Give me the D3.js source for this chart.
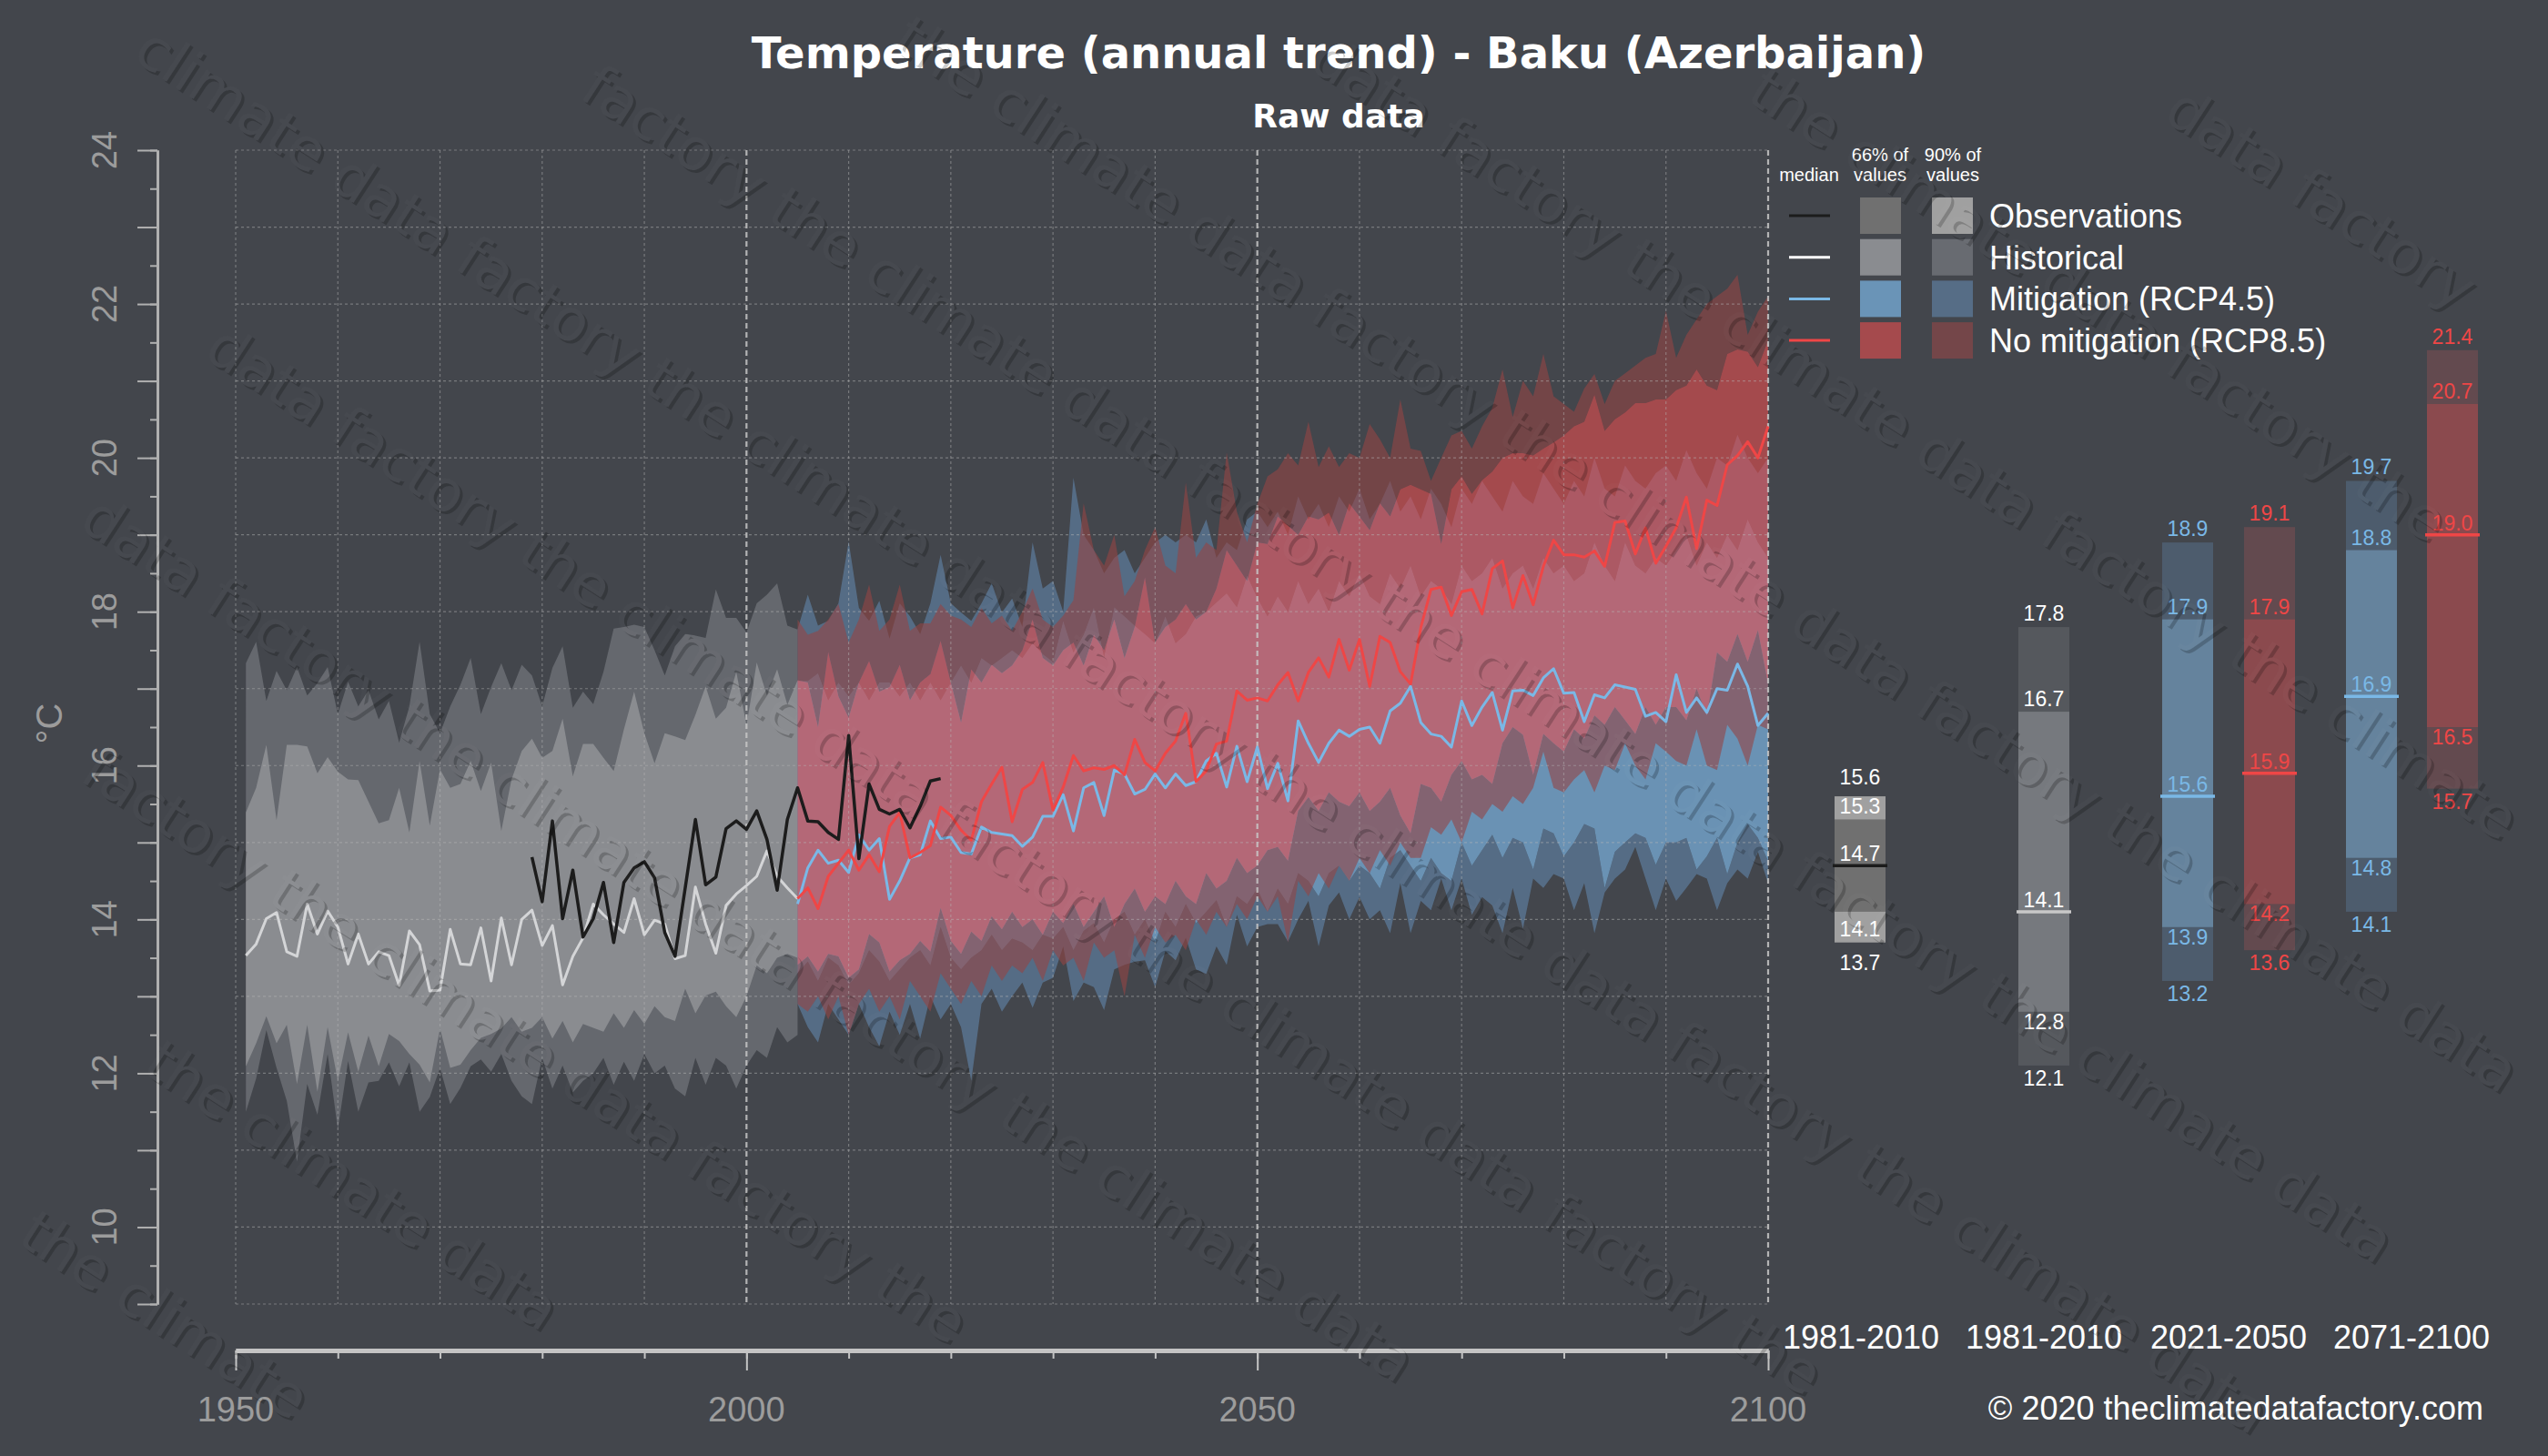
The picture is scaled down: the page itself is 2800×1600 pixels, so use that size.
<!DOCTYPE html>
<html><head><meta charset="utf-8">
<script src="https://cdn.jsdelivr.net/npm/d3@7"></script>
<style>body{margin:0;background:#43464c;} svg{display:block}</style>
</head><body>
<svg id="chart" width="2800" height="1600"></svg>
<script>
// ---------------- DATA ----------------
const histYears = d3.range(1951, 2006);
const histMedian = [13.53,13.68,14.01,14.09,13.58,13.52,14.20,13.81,14.11,13.90,
 13.42,13.81,13.42,13.58,13.53,13.14,13.85,13.67,13.07,13.08,
 13.87,13.42,13.41,13.89,13.20,14.02,13.41,14.00,14.12,13.66,
 13.92,13.15,13.52,13.76,14.20,14.06,13.94,13.83,14.27,13.80,
 13.99,13.94,13.49,13.53,14.42,13.94,13.56,14.18,14.33,14.44,
 14.56,14.89,14.56,14.41,14.27];
const histHi90 = [17.33,17.61,16.84,17.23,16.98,17.28,16.91,17.07,17.28,16.67,
 17.09,16.77,16.98,16.60,16.84,16.30,16.77,17.61,16.67,16.42,
 16.77,17.05,17.40,16.67,17.02,17.33,16.98,17.31,17.17,16.77,
 17.27,17.55,16.75,16.96,16.80,17.22,17.78,17.80,17.83,17.80,
 17.50,17.17,17.55,17.71,17.69,17.66,18.29,17.92,17.92,17.73,
 18.11,18.22,18.37,17.82,17.77];
const histHi66 = [15.39,15.71,16.27,15.29,16.27,16.27,16.25,15.90,16.11,15.92,
 15.82,15.81,15.53,15.25,15.29,15.71,15.13,16.06,15.22,15.95,
 15.71,15.76,16.06,15.67,16.04,15.15,15.82,16.19,16.35,16.10,
 16.19,16.61,15.86,16.28,16.28,16.10,15.93,16.47,16.96,16.42,
 16.03,16.42,16.38,16.33,16.66,17.03,16.61,16.75,17.22,16.52,
 17.34,16.91,17.25,16.79,17.11];
const histLo66 = [12.09,12.39,12.74,12.39,12.63,11.86,12.63,11.76,12.60,11.90,
 12.53,12.02,12.49,12.09,12.51,12.42,12.25,12.11,11.88,12.58,
 12.07,12.11,12.30,12.46,12.51,12.58,12.73,12.54,12.59,12.73,
 12.45,12.68,12.40,12.64,12.59,12.54,12.78,12.59,12.82,12.64,
 12.87,12.73,12.68,13.10,12.78,13.01,13.06,12.87,12.73,13.00,
 13.40,13.30,13.50,13.55,13.50];
const histLo90 = [11.50,11.93,12.56,12.07,11.64,10.85,11.86,11.46,12.25,11.27,
 12.16,11.50,11.88,11.90,12.14,11.83,12.14,11.50,11.69,12.07,
 11.60,11.81,12.09,12.18,12.02,12.25,11.90,11.70,11.60,12.20,
 11.80,12.10,11.75,11.90,12.00,12.20,11.85,12.15,11.90,12.25,
 12.00,12.10,11.80,11.70,12.20,11.85,12.20,12.10,11.80,12.10,
 12.30,12.20,12.60,12.40,12.50];

const obsYears = d3.range(1979, 2020);
const obsValues = [14.81,14.23,15.28,14.01,14.64,13.77,14.01,14.48,13.70,14.48,
 14.67,14.75,14.54,13.83,13.52,14.41,15.30,14.45,14.55,15.18,
 15.28,15.17,15.41,15.04,14.38,15.30,15.71,15.28,15.27,15.13,
 15.04,16.39,14.79,15.76,15.43,15.37,15.43,15.19,15.47,15.80,
 15.83];

const futYears = d3.range(2005, 2101);
const rcp45Median = [14.20,14.67,14.90,14.73,14.77,14.61,15.10,14.90,15.05,14.26,
 14.50,14.80,14.84,15.28,15.05,15.07,14.87,14.85,15.20,15.13,
 15.11,15.09,14.95,15.07,15.34,15.34,15.62,15.15,15.71,15.78,
 15.35,15.94,15.89,15.63,15.69,15.89,15.71,15.89,15.74,15.79,
 16.06,16.16,15.72,16.25,15.79,16.24,15.70,16.03,15.54,16.58,
 16.29,16.04,16.29,16.46,16.38,16.47,16.50,16.29,16.71,16.81,
 17.03,16.56,16.41,16.38,16.24,16.84,16.52,16.76,16.95,16.46,
 16.97,16.98,16.91,17.14,17.26,16.94,16.95,16.57,16.92,16.88,
 17.05,17.02,16.99,16.64,16.69,16.57,17.18,16.69,16.88,16.69,
 17.00,16.98,17.32,17.03,16.52,16.68];
const rcp45Hi90 = [17.77,18.22,17.82,17.88,18.11,18.91,18.05,17.88,18.14,17.65,
 18.11,17.94,17.71,18.11,18.74,18.11,17.99,17.88,18.11,18.37,
 17.99,18.17,17.80,18.90,18.30,18.40,18.00,19.74,19.00,18.80,
 18.50,18.70,18.80,18.50,18.70,18.90,19.00,18.90,19.00,18.90,
 19.20,18.70,18.90,18.80,19.20,19.30,19.10,19.30,19.00,19.50,
 19.20,19.40,19.10,19.50,19.30,19.60,19.20,19.40,19.70,19.30,
 19.50,19.20,19.60,19.40,19.10,19.60,19.40,19.70,19.50,19.30,
 19.70,19.50,19.40,19.80,19.60,19.40,19.70,19.50,20.00,19.60,
 19.50,19.90,19.70,19.60,19.80,19.90,19.70,20.10,19.80,19.60,
 20.00,19.90,20.30,20.00,19.80,20.00];
const rcp45Hi66 = [17.10,17.10,17.20,16.85,17.08,16.90,17.08,16.85,17.08,17.08,
 16.90,17.08,16.85,17.08,16.85,17.08,17.30,17.08,17.40,17.30,
 17.40,17.50,17.40,17.59,17.45,17.35,17.88,17.47,17.70,18.06,
 17.41,18.06,17.94,17.82,17.71,17.59,17.94,17.59,17.71,17.94,
 18.00,18.12,18.24,18.06,18.47,18.18,17.94,18.20,18.00,18.40,
 18.10,18.30,18.00,18.40,18.20,18.50,18.20,18.10,18.50,18.30,
 18.60,18.20,18.40,18.30,18.10,18.60,18.40,18.50,18.70,18.30,
 18.50,18.60,18.30,18.70,18.50,18.60,18.40,18.50,18.90,18.60,
 18.40,18.90,18.60,18.50,18.70,18.60,18.80,19.00,18.60,18.90,
 18.70,19.00,18.80,19.20,18.90,18.70];
const rcp45Lo66 = [13.30,13.45,13.20,13.50,13.40,13.15,13.30,13.60,13.45,13.20,
 13.35,13.50,13.60,13.40,13.90,13.50,13.35,13.50,13.60,13.80,
 13.60,13.75,13.70,13.60,13.80,13.75,13.90,13.60,13.85,13.95,
 13.70,14.00,14.10,13.80,14.00,13.70,14.10,13.90,14.20,13.95,
 14.10,14.25,13.90,14.30,14.20,14.40,14.10,14.40,14.20,14.60,
 14.50,14.30,14.60,14.70,14.50,14.70,14.60,14.40,14.80,14.90,
 14.70,14.50,14.80,14.60,14.50,15.00,14.70,14.90,15.10,14.80,
 15.06,15.00,14.65,15.18,15.12,14.82,15.00,15.24,15.18,14.41,
 14.88,15.00,15.12,15.06,14.71,15.00,15.00,15.06,14.65,14.82,
 15.06,14.59,15.00,15.24,15.06,14.76];
const rcp45Lo90 = [12.90,12.60,12.40,12.90,12.70,12.50,12.90,12.60,12.35,12.80,
 12.50,12.90,12.45,13.00,12.70,12.90,12.60,11.90,12.90,13.10,
 12.80,13.00,13.18,12.85,13.18,13.24,13.65,12.94,13.18,13.12,
 12.82,13.35,13.41,13.45,13.47,13.12,13.59,13.47,13.76,13.35,
 13.29,13.65,13.41,14.06,13.65,13.90,13.94,13.94,13.71,14.00,
 14.24,13.65,14.18,14.35,14.00,14.29,14.00,14.12,13.82,14.47,
 13.82,14.24,14.12,14.53,14.12,14.53,14.06,14.29,14.18,13.82,
 14.41,13.88,14.53,14.41,14.59,14.53,14.12,14.47,13.82,14.35,
 14.53,14.65,14.94,14.53,14.12,14.53,14.24,14.41,14.59,14.53,
 14.12,14.47,14.65,14.53,14.88,14.47];

const rcp85Median = [14.27,14.41,14.14,14.56,14.73,14.90,14.64,14.84,14.62,15.21,
 15.39,14.80,14.87,14.96,15.46,15.35,15.16,15.03,15.53,15.76,
 15.98,15.27,15.69,15.78,16.04,15.42,15.72,16.13,15.93,15.97,
 15.95,16.00,15.88,16.34,16.04,15.93,16.16,16.32,16.68,15.79,
 15.93,16.28,16.32,16.97,16.85,16.88,16.84,17.05,17.21,16.84,
 17.21,17.40,17.15,17.64,17.24,17.64,17.03,17.68,17.60,17.22,
 17.06,17.79,18.29,18.32,17.95,18.26,18.29,17.97,18.56,18.66,
 18.05,18.47,18.09,18.59,18.93,18.74,18.74,18.71,18.79,18.59,
 19.16,19.18,18.75,19.09,18.63,18.85,19.09,19.49,18.82,19.45,
 19.38,19.91,20.03,20.21,20.00,20.41];
const rcp85Hi90 = [17.90,17.70,17.75,17.90,18.10,17.60,17.90,18.35,17.75,17.90,
 18.35,17.75,17.85,17.85,18.10,17.95,17.90,17.80,18.05,17.85,
 17.95,17.75,18.00,18.30,17.90,17.80,17.95,18.15,19.41,18.80,
 18.60,19.00,18.20,18.40,18.80,19.10,18.60,18.50,19.68,18.70,
 18.90,18.80,20.07,19.30,18.90,19.40,19.76,19.85,20.06,19.90,
 20.47,19.88,20.15,19.88,20.06,20.00,20.44,20.24,20.00,20.76,
 20.12,20.09,19.70,20.00,20.29,20.35,20.12,20.41,20.65,21.15,
 20.53,21.00,20.80,21.35,20.80,20.70,20.60,20.90,21.09,20.70,
 21.00,21.10,21.20,21.30,21.35,21.91,21.30,21.60,21.80,22.00,
 22.10,22.20,22.38,21.60,21.90,22.10];
const rcp85Hi66 = [17.11,17.08,16.50,17.48,16.90,16.62,17.08,17.36,16.96,17.02,
 17.31,16.85,17.08,17.19,17.62,17.08,16.56,17.25,17.08,17.31,
 17.20,17.30,17.50,17.90,17.40,17.30,17.50,17.60,17.30,17.70,
 17.50,17.90,17.40,17.80,18.45,17.60,17.80,17.90,18.10,17.90,
 18.00,18.30,18.80,18.60,18.40,18.90,18.88,19.24,19.12,19.00,
 19.24,19.20,19.29,19.00,19.41,19.24,19.06,19.41,19.24,19.59,
 19.65,19.59,19.53,18.88,19.59,19.76,19.53,19.71,19.82,20.00,
 20.06,20.06,20.03,20.12,20.20,20.29,20.41,20.47,20.82,20.35,
 20.50,20.59,20.71,20.71,20.76,20.76,20.88,20.94,21.15,20.94,
 20.88,21.35,21.41,21.38,21.18,21.53];
const rcp85Lo66 = [13.41,13.52,13.32,13.55,13.52,13.24,13.35,13.81,13.70,13.32,
 13.47,13.55,13.72,13.58,14.15,13.72,13.55,13.84,13.72,14.04,
 13.87,14.10,13.90,14.00,13.80,14.10,13.95,14.20,13.90,14.10,
 14.30,13.90,14.20,14.40,14.10,14.30,14.20,14.50,14.30,14.20,
 14.60,14.40,14.50,14.80,14.60,14.70,14.90,14.94,14.76,15.41,
 15.59,15.41,15.65,15.53,15.47,15.65,15.41,15.53,15.71,15.35,
 15.12,15.76,15.71,15.53,15.88,16.06,15.82,15.88,15.76,16.29,
 16.50,16.40,15.88,16.41,16.29,16.18,16.47,16.35,16.65,16.53,
 16.76,16.59,16.41,16.76,16.53,16.76,16.76,16.59,17.00,16.65,
 17.47,17.35,17.71,17.35,17.76,17.06];
const rcp85Lo90 = [12.90,12.80,13.00,12.70,13.00,12.50,12.90,13.10,12.80,13.00,
 12.70,13.20,13.00,12.80,13.30,13.10,12.90,13.20,13.00,13.40,
 13.20,13.40,13.30,13.50,13.20,13.60,13.40,13.50,13.20,13.70,
 13.50,13.60,13.00,13.80,13.50,13.90,13.70,13.80,13.60,14.00,
 13.80,14.10,13.90,14.20,14.00,14.30,14.10,14.30,13.70,14.50,
 14.30,14.60,14.40,14.70,14.50,14.80,14.60,14.90,14.70,15.00,
 14.80,14.80,15.20,15.10,15.30,15.00,15.40,15.30,15.50,15.40,
 15.60,15.50,15.71,16.18,15.71,15.65,15.82,15.94,15.65,16.00,
 15.94,16.29,16.00,15.82,16.29,16.18,16.06,16.00,16.47,16.00,
 15.94,16.53,16.35,16.00,16.53,16.47];

// Right-hand summary boxes
const boxPeriods = ["1981-2010","1981-2010","2021-2050","2021-2050","2071-2100","2071-2100"];
const boxSeries  = ["obs","hist","rcp45","rcp85","rcp45","rcp85"];
const boxLo90 = [13.7, 12.1, 13.2, 13.6, 14.1, 15.7];
const boxLo66 = [14.1, 12.8, 13.9, 14.2, 14.8, 16.5];
const boxMed  = [14.7, 14.1, 15.6, 15.9, 16.9, 19.0];
const boxHi66 = [15.3, 16.7, 17.9, 17.9, 18.8, 20.7];
const boxHi90 = [15.6, 17.8, 18.9, 19.1, 19.7, 21.4];
const periodLabels = ["1981-2010","1981-2010","2021-2050","2071-2100"];

const yTickLabels = [10,12,14,16,18,20,22,24];
const xTickLabels = [1950,2000,2050,2100];
const legendNames = ["Observations","Historical","Mitigation (RCP4.5)","No mitigation (RCP8.5)"];

// ---------------- STYLE ----------------
const BG = "#43464c";
const col = {
  obs:   {line:"#1c1c1c", c66:"#707070", c90:"#a0a0a0", text:"#ffffff", box66:"#707070", box90:"#a0a0a0"},
  hist:  {line:"#ffffff", c66:"#8a8c90", c90:"#686b71", text:"#ffffff", box66:"#76797e", box90:"#55585d", med:"#c8c8c8"},
  rcp45: {line:"#7ab8e6", c66:"#6a94b7", c90:"#566d86", text:"#7ab8e6", box66:"#65839d", box90:"#4d5c6d"},
  rcp85: {line:"#ef4646", c66:"#a54a4d", c90:"#744649", text:"#ef4646", box66:"#8b4a4e", box90:"#634a4f"}
};
const SANS = "'Liberation Sans', Arial, sans-serif";

const svg = d3.select("#chart");
svg.append("rect").attr("width",2800).attr("height",1600).attr("fill",BG);

const x = d3.scaleLinear().domain([1950,2100]).range([259,1943]);
const y = d3.scaleLinear().domain([9,24]).range([1433,165]);

const gBands = svg.append("g");
function band(years, lo, hi, fill, op) {
  const a = d3.area().x(d => x(d)).y0((d,i) => y(lo[i])).y1((d,i) => y(hi[i]));
  gBands.append("path").datum(years).attr("d", a).attr("fill", fill).attr("fill-opacity", op);
}
band(histYears, histLo90, histHi90, "#65686e", 1);
band(histYears, histLo66, histHi66, "#8a8c90", 1);
band(futYears, rcp45Hi66, rcp45Hi90, "#6081a4", 0.65);
band(futYears, rcp45Lo90, rcp45Lo66, "#6081a4", 0.65);
band(futYears, rcp45Lo66, rcp45Hi66, "#7fbced", 0.65);
band(futYears, rcp85Hi66, rcp85Hi90, "#944445", 0.6);
band(futYears, rcp85Lo90, rcp85Lo66, "#944445", 0.6);
band(futYears, rcp85Lo66, rcp85Hi66, "#e64d4e", 0.6);

// grid
const gGrid = svg.append("g");
d3.range(9, 24.01, 1).forEach(v => {
  gGrid.append("line").attr("x1", x(1950)).attr("x2", x(2100)).attr("y1", y(v)).attr("y2", y(v))
    .attr("stroke", "#b8b8b8").attr("stroke-opacity", 0.45).attr("stroke-width", 1.2).attr("stroke-dasharray", "3,3");
});
d3.range(1950, 2101, 10).forEach(yr => {
  const major = (yr === 2000 || yr === 2050 || yr === 2100);
  gGrid.append("line").attr("x1", x(yr)).attr("x2", x(yr)).attr("y1", y(24)).attr("y2", y(9))
    .attr("stroke", major ? "#c8c8c8" : "#b8b8b8")
    .attr("stroke-opacity", major ? 0.85 : 0.45)
    .attr("stroke-width", major ? 2.2 : 1.2)
    .attr("stroke-dasharray", major ? "6,4" : "3,3");
});

// lines
function line(years, vals, color, w) {
  const l = d3.line().x(d => x(d)).y((d,i) => y(vals[i]));
  svg.append("path").datum(years).attr("d", l).attr("fill","none")
    .attr("stroke", color).attr("stroke-width", w).attr("stroke-linejoin","round");
}
line(histYears, histMedian, "#d4d5d7", 3);
line(futYears, rcp45Median, col.rcp45.line, 3);
line(futYears, rcp85Median, col.rcp85.line, 3);
line(obsYears, obsValues, col.obs.line, 3.5);

// y axis
const axisCol = "#b0b0b0";
const gyMinor = svg.append("g").attr("transform","translate(173,0)")
  .call(d3.axisLeft(y).tickValues(d3.range(9, 24.01, 0.5)).tickSize(8).tickSizeOuter(0).tickFormat(""));
const gyMajor = svg.append("g").attr("transform","translate(173,0)")
  .call(d3.axisLeft(y).tickValues(d3.range(9, 24.01, 1)).tickSize(22).tickSizeOuter(0).tickFormat(""));
[gyMinor, gyMajor].forEach(g => {
  g.selectAll("path.domain").attr("stroke", axisCol).attr("stroke-width", 3);
  g.selectAll(".tick line").attr("stroke", axisCol).attr("stroke-width", 2);
});
yTickLabels.forEach(v => {
  svg.append("text").attr("transform", `translate(128,${y(v)}) rotate(-90)`)
    .attr("text-anchor","middle").attr("fill","#9c9c9c")
    .style("font-family", SANS).style("font-size","38px").text(v);
});
svg.append("text").attr("transform","translate(68,795) rotate(-90)").attr("text-anchor","middle")
  .attr("fill","#9c9c9c").style("font-family", SANS).style("font-size","40px").text("°C");

// x axis
const gxMinor = svg.append("g").attr("transform","translate(0,1484)")
  .call(d3.axisBottom(x).tickValues(d3.range(1950, 2101, 10)).tickSize(9).tickSizeOuter(0).tickFormat(""));
const gxMajor = svg.append("g").attr("transform","translate(0,1484)")
  .call(d3.axisBottom(x).tickValues(xTickLabels).tickSize(22).tickSizeOuter(0).tickFormat(""));
[gxMinor, gxMajor].forEach(g => {
  g.selectAll("path.domain").attr("stroke", "#c4c4c4").attr("stroke-width", 5);
  g.selectAll(".tick line").attr("stroke", "#c4c4c4").attr("stroke-width", 2);
});
xTickLabels.forEach(v => {
  svg.append("text").attr("x", x(v)).attr("y", 1562).attr("text-anchor","middle")
    .attr("fill","#9c9c9c").style("font-family", SANS).style("font-size","38px").text(v);
});

// titles
svg.append("text").attr("x",1471).attr("y",75).attr("text-anchor","middle").attr("fill","#ffffff")
  .style("font-family","'DejaVu Sans', sans-serif").style("font-weight","bold").style("font-size","48px")
  .text("Temperature (annual trend) - Baku (Azerbaijan)");
svg.append("text").attr("x",1471).attr("y",140).attr("text-anchor","middle").attr("fill","#ffffff")
  .style("font-family","'DejaVu Sans', sans-serif").style("font-weight","bold").style("font-size","36px")
  .text("Raw data");

// legend
const lg = svg.append("g");
[["median",null,1988],["66% of","values",2066],["90% of","values",2146]].forEach(([a,b,cx]) => {
  if (b) {
    lg.append("text").attr("x",cx).attr("y",177).attr("text-anchor","middle").attr("fill","#ffffff")
      .style("font-family",SANS).style("font-size","20px").text(a);
    lg.append("text").attr("x",cx).attr("y",199).attr("text-anchor","middle").attr("fill","#ffffff")
      .style("font-family",SANS).style("font-size","20px").text(b);
  } else {
    lg.append("text").attr("x",cx).attr("y",199).attr("text-anchor","middle").attr("fill","#ffffff")
      .style("font-family",SANS).style("font-size","20px").text(a);
  }
});
const legKeys = ["obs","hist","rcp45","rcp85"];
legKeys.forEach((k,i) => {
  const cy = 237 + i*45.7;
  lg.append("line").attr("x1",1966).attr("x2",2011).attr("y1",cy).attr("y2",cy)
    .attr("stroke",col[k].line).attr("stroke-width",3);
  lg.append("rect").attr("x",2044).attr("y",cy-20).attr("width",45).attr("height",40).attr("fill",col[k].c66);
  lg.append("rect").attr("x",2123).attr("y",cy-20).attr("width",45).attr("height",40).attr("fill",col[k].c90);
  lg.append("text").attr("x",2186).attr("y",cy+13).attr("fill","#ffffff")
    .style("font-family",SANS).style("font-size","36px").text(legendNames[i]);
});

// summary boxes
const boxCenters = [2044, 2246, 2404, 2494, 2606, 2695];
const boxW = 56;
const fmt = d3.format(".1f");
const gb = svg.append("g");
boxSeries.forEach((s,i) => {
  const cx = boxCenters[i];
  const c = col[s];
  const isObs = s === "obs";
  gb.append("rect").attr("x",cx-boxW/2).attr("width",boxW)
    .attr("y",y(boxHi90[i])).attr("height",y(boxLo90[i])-y(boxHi90[i]))
    .attr("fill", isObs ? c.c90 : c.box90);
  gb.append("rect").attr("x",cx-boxW/2).attr("width",boxW)
    .attr("y",y(boxHi66[i])).attr("height",y(boxLo66[i])-y(boxHi66[i]))
    .attr("fill", isObs ? c.c66 : c.box66);
  gb.append("line").attr("x1",cx-boxW/2-2).attr("x2",cx+boxW/2+2)
    .attr("y1",y(boxMed[i])).attr("y2",y(boxMed[i]))
    .attr("stroke", s==="hist" ? c.med : c.line).attr("stroke-width",3.5);
  const lab = (v, dy) => gb.append("text").attr("x",cx).attr("y",y(v)+dy).attr("text-anchor","middle")
    .attr("fill",c.text).style("font-family",SANS).style("font-size","23px").text(fmt(v));
  lab(boxHi90[i], isObs ? -13 : -7);
  lab(boxHi66[i], -6);
  lab(boxMed[i], -5);
  lab(boxLo66[i], isObs ? 27 : 19);
  lab(boxLo90[i], isObs ? 30 : 22);
});
const periodCenters = [2045, 2246, 2449, 2650];
periodLabels.forEach((p,i) => {
  svg.append("text").attr("x",periodCenters[i]).attr("y",1482).attr("text-anchor","middle")
    .attr("fill","#ffffff").style("font-family",SANS).style("font-size","36px").text(p);
});
svg.append("text").attr("x",2729).attr("y",1560).attr("text-anchor","end").attr("fill","#ffffff")
  .style("font-family",SANS).style("font-size","36px").text("© 2020 theclimatedatafactory.com");

// watermark (embossed, word by word, only whole words inside the canvas)
const WM_FONT = "'DejaVu Sans', sans-serif", WM_SIZE = 64;
const wmWords = ["the","climate","data","factory"];
const meas = svg.append("text").style("font-family",WM_FONT).style("font-size",WM_SIZE+"px");
const wW = wmWords.map(w => { meas.text(w); return meas.node().getComputedTextLength(); });
meas.text("a a"); const l1 = meas.node().getComputedTextLength();
meas.text("aa");  const spaceW = l1 - meas.node().getComputedTextLength();
meas.remove();
const wOff = []; let acc = 0;
wW.forEach((w,i) => { wOff.push(acc); acc += w + spaceW; });
const phraseW = acc;
const ang = 33, ca = Math.cos(ang*Math.PI/180), sa = Math.sin(ang*Math.PI/180);
const placed = [];
for (let k = -9; k <= 8; k++) {
  const v = -24.5 + k*232;
  const phase = 30 - 13*k;
  for (let m = -3; m <= 6; m++) {
    const start = phase + m*phraseW;
    wmWords.forEach((w,j) => {
      const u0 = start + wOff[j], u1 = u0 + wW[j];
      const corners = [[u0, v-50],[u1, v-50],[u0, v+16],[u1, v+16]].map(([u,vv]) => [u*ca - vv*sa + 3, u*sa + vv*ca + 3]);
      if (corners.every(([X,Y]) => X > 2 && X < 2798 && Y > 2 && Y < 1598)) placed.push({w, u:u0, v});
    });
  }
}
const defs = svg.append("defs");
const mask = defs.append("mask").attr("id","wmMask").attr("maskUnits","userSpaceOnUse")
  .attr("x",0).attr("y",0).attr("width",2800).attr("height",1600);
mask.append("rect").attr("width",2800).attr("height",1600).attr("fill","#fff");
const mg = mask.append("g").attr("transform",`rotate(${ang})`);
placed.forEach(p => mg.append("text").attr("x",p.u).attr("y",p.v).attr("fill","#000")
  .style("font-family",WM_FONT).style("font-size",WM_SIZE+"px").text(p.w));
const wm = svg.append("g").attr("mask","url(#wmMask)");
const wg = wm.append("g").attr("transform",`translate(3,3) rotate(${ang})`);
placed.forEach(p => wg.append("text").attr("x",p.u).attr("y",p.v).attr("fill","#000").attr("fill-opacity",0.2)
  .style("font-family",WM_FONT).style("font-size",WM_SIZE+"px").text(p.w));
const wh = svg.append("g").attr("transform",`rotate(${ang})`);
placed.forEach(p => wh.append("text").attr("x",p.u).attr("y",p.v).attr("fill","#ffffff").attr("fill-opacity",0.02)
  .style("font-family",WM_FONT).style("font-size",WM_SIZE+"px").text(p.w));
</script>
</body></html>
